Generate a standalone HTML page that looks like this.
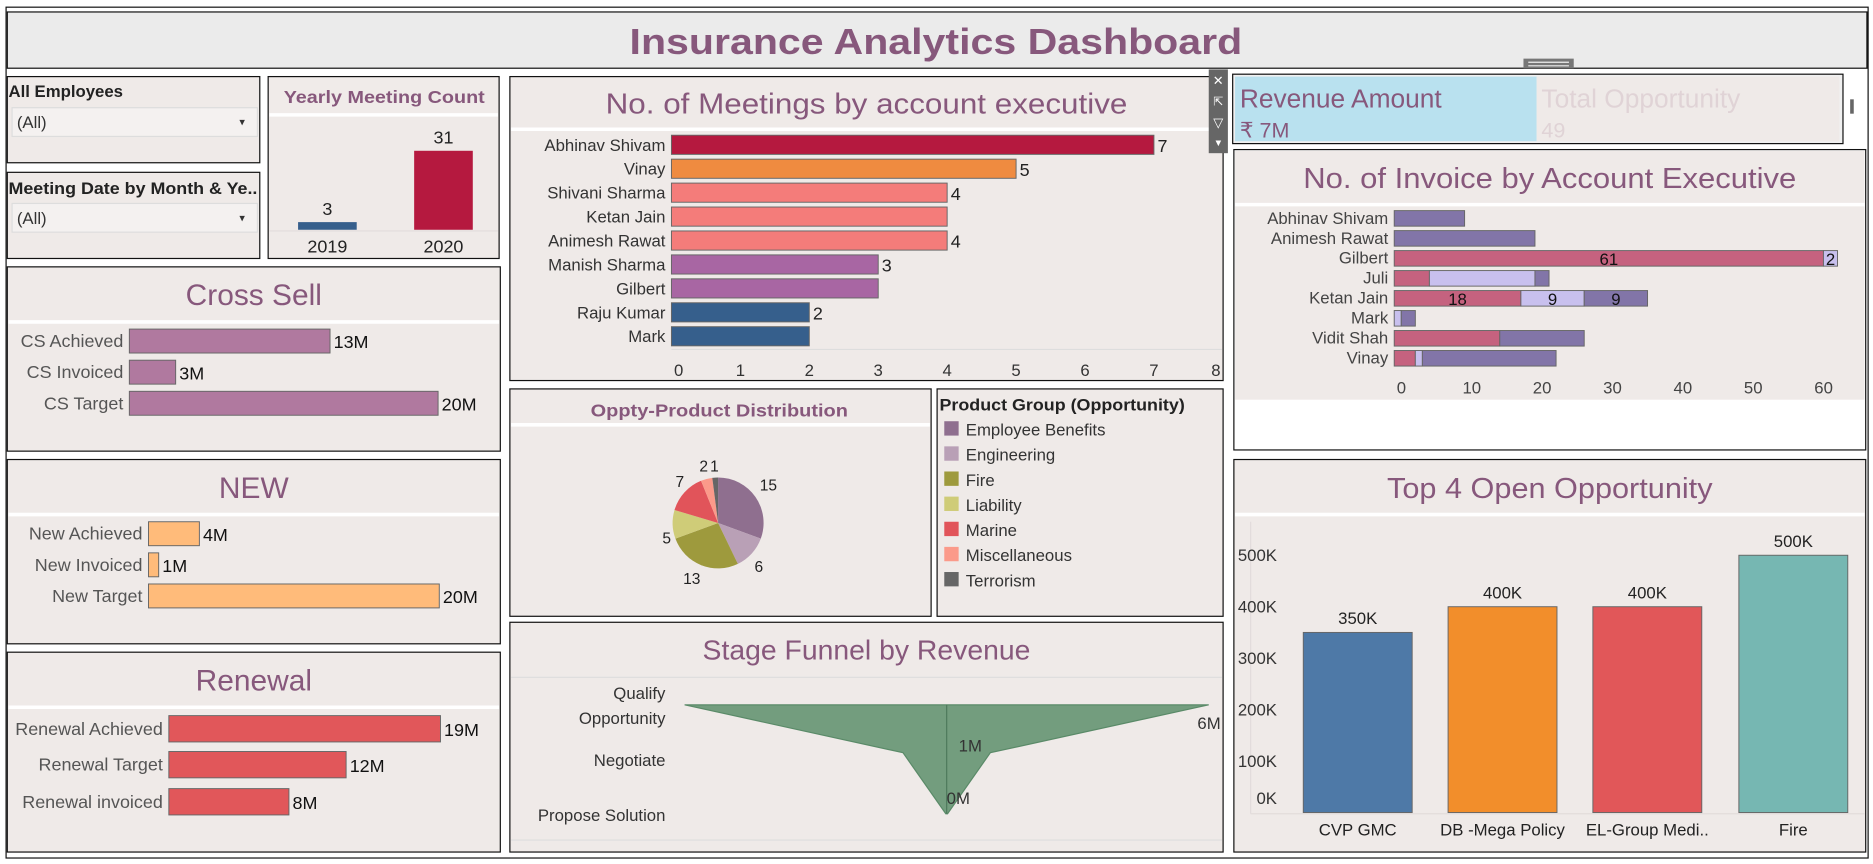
<!DOCTYPE html>
<html><head><meta charset="utf-8">
<style>
html,body{margin:0;padding:0;background:#fff;width:1873px;height:864px;overflow:hidden}
svg{display:block;font-family:"Liberation Sans",sans-serif}
</style></head>
<body>
<svg id="dash" width="1873" height="864" viewBox="0 0 1565 722" xmlns="http://www.w3.org/2000/svg">
<rect x="0" y="0" width="1565" height="722" fill="#fff"/>
<rect x="5" y="6" width="1556" height="711" fill="#fff" stroke="#111" stroke-width="1"/>
<g>
<rect x="6" y="10" width="1554" height="47" fill="#ebebeb" stroke="#111"/>
<text x="782" y="45" text-anchor="middle" font-size="30" font-weight="bold" fill="#87587c" textLength="512" lengthAdjust="spacingAndGlyphs">Insurance Analytics Dashboard</text>
<rect x="1273" y="49" width="42" height="8" fill="#777"/><line x1="1277" y1="52" x2="1311" y2="52" stroke="#eee"/><line x1="1277" y1="55" x2="1311" y2="55" stroke="#eee"/>
</g>
<g>
<rect x="6" y="64" width="211" height="72" fill="#efeae8" stroke="#111"/>
<text x="7" y="81" font-size="14" font-weight="bold" fill="#222">All Employees</text>
<rect x="10" y="90" width="205" height="24" fill="#f4f1f0" stroke="#ddd"/>
<text x="14" y="107" font-size="14" fill="#333">(All)</text><text x="200" y="105" font-size="9" fill="#333">▾</text>
</g>
<g>
<rect x="6" y="144" width="211" height="72" fill="#efeae8" stroke="#111"/>
<text x="7" y="162" font-size="14" font-weight="bold" fill="#222" textLength="208" lengthAdjust="spacingAndGlyphs">Meeting Date by Month &amp; Ye..</text>
<rect x="10" y="170" width="205" height="24" fill="#f4f1f0" stroke="#ddd"/>
<text x="14" y="187" font-size="14" fill="#333">(All)</text><text x="200" y="185" font-size="9" fill="#333">▾</text>
</g>
<g>
<rect x="224" y="64" width="193" height="152" fill="#efeae8" stroke="#111"/>
<rect x="225" y="65" width="191" height="30" fill="#f0ebe9"/><line x1="225" y1="96" x2="416" y2="96" stroke="#fff" stroke-width="3"/>
<text x="321" y="86" text-anchor="middle" font-size="15" font-weight="bold" fill="#87587c" textLength="168" lengthAdjust="spacingAndGlyphs">Yearly Meeting Count</text>
<g id="yearly"></g>
</g>
<g>
<rect x="6" y="223" width="412" height="154" fill="#efeae8" stroke="#111"/>
<line x1="7" y1="269" x2="417" y2="269" stroke="#fff" stroke-width="3"/>
<text x="212" y="255" text-anchor="middle" font-size="25" fill="#87587c">Cross Sell</text>
<g id="cs"></g></g>
<g>
<rect x="6" y="384" width="412" height="154" fill="#efeae8" stroke="#111"/>
<line x1="7" y1="430" x2="417" y2="430" stroke="#fff" stroke-width="3"/>
<text x="212" y="416" text-anchor="middle" font-size="25" fill="#87587c">NEW</text>
<g id="nw"></g></g>
<g>
<rect x="6" y="545" width="412" height="167" fill="#efeae8" stroke="#111"/>
<line x1="7" y1="591" x2="417" y2="591" stroke="#fff" stroke-width="3"/>
<text x="212" y="577" text-anchor="middle" font-size="25" fill="#87587c">Renewal</text>
<g id="rn"></g></g>
<g>
<rect x="426" y="64" width="596" height="254" fill="#efeae8" stroke="#111"/>
<line x1="427" y1="108" x2="1021" y2="108" stroke="#fff" stroke-width="3"/>
<text x="724" y="95" text-anchor="middle" font-size="24" fill="#87587c" textLength="436" lengthAdjust="spacingAndGlyphs">No. of Meetings by account executive</text>
<g id="meet"></g></g>
<g>
<rect x="1010" y="58" width="16" height="70" fill="#666"/>
<text x="1018" y="71" text-anchor="middle" font-size="11" fill="#fff">✕</text>
<text x="1018" y="88" text-anchor="middle" font-size="10" fill="#fff">⇱</text>
<text x="1018" y="106" text-anchor="middle" font-size="11" fill="#fff">▽</text>
<text x="1018" y="122" text-anchor="middle" font-size="8" fill="#fff">▼</text>
</g>
<g>
<rect x="426" y="325" width="352" height="190" fill="#efeae8" stroke="#111"/>
<line x1="427" y1="355" x2="777" y2="355" stroke="#fff" stroke-width="3"/>
<text x="601" y="348" text-anchor="middle" font-size="15" font-weight="bold" fill="#87587c" textLength="215" lengthAdjust="spacingAndGlyphs">Oppty-Product Distribution</text>
<g id="pie"></g></g>
<g>
<rect x="783" y="325" width="239" height="190" fill="#efeae8" stroke="#111"/>
<text x="785" y="343" font-size="14" font-weight="bold" fill="#222" textLength="205" lengthAdjust="spacingAndGlyphs">Product Group (Opportunity)</text>
<g id="legend"></g></g>
<g>
<rect x="426" y="520" width="596" height="192" fill="#efeae8" stroke="#111"/>
<line x1="427" y1="566" x2="1021" y2="566" stroke="#ddd" stroke-width="1"/>
<line x1="427" y1="702" x2="1021" y2="702" stroke="#ddd" stroke-width="1"/>
<text x="724" y="551" text-anchor="middle" font-size="23" fill="#87587c" textLength="274" lengthAdjust="spacingAndGlyphs">Stage Funnel by Revenue</text>
<g id="funnel"></g></g>
<g>
<rect x="1030" y="62" width="510" height="58" fill="#f0f0f0" stroke="#111"/>
<rect x="1032" y="64" width="252" height="54" fill="#b9e1ef"/>
<text x="1036" y="90" font-size="22" fill="#87587c">Revenue Amount</text>
<text x="1036" y="115" font-size="18" fill="#87587c">₹ 7M</text>
<rect x="1284" y="64" width="253" height="54" fill="#efeae8"/>
<text x="1288" y="90" font-size="22" fill="#e0d3d6">Total Opportunity</text>
<text x="1288" y="115" font-size="18" fill="#e0d3d6">49</text>
<rect x="1546" y="83" width="3" height="12" fill="#666"/>
</g>
<g>
<rect x="1031" y="125" width="528" height="251" fill="#fff" stroke="#111"/>
<rect x="1032" y="126" width="526" height="208" fill="#efeae8"/>
<line x1="1032" y1="171" x2="1558" y2="171" stroke="#fff" stroke-width="3"/>
<text x="1295" y="157" text-anchor="middle" font-size="24" fill="#87587c" textLength="412" lengthAdjust="spacingAndGlyphs">No. of Invoice by Account Executive</text>
<g id="inv"></g></g>
<g>
<rect x="1031" y="384" width="528" height="328" fill="#efeae8" stroke="#111"/>
<line x1="1032" y1="430" x2="1558" y2="430" stroke="#fff" stroke-width="3"/>
<text x="1295" y="416" text-anchor="middle" font-size="24" fill="#87587c" textLength="272" lengthAdjust="spacingAndGlyphs">Top 4 Open Opportunity</text>
<g id="top4"></g></g>
</svg>
<script>
const NS="http://www.w3.org/2000/svg";
function mk(p,t,a,txt){const e=document.createElementNS(NS,t);for(const k in a)e.setAttribute(k,a[k]);if(txt!==undefined)e.textContent=txt;p.appendChild(e);return e;}
const G=id=>document.getElementById(id);

const yearCats=["2019","2020"];
const yearVals=[3,31];
const yearColors=["#365f8c","#b5193f"];
const csCats=["CS Achieved","CS Invoiced","CS Target"];
const csVals=[13,3,20];
const newCats=["New Achieved","New Invoiced","New Target"];
const newVals=[3.5,0.7,20];
const rnCats=["Renewal Achieved","Renewal Target","Renewal invoiced"];
const rnVals=[19,12.4,8.4];
const meetNames=["Abhinav Shivam","Vinay","Shivani Sharma","Ketan Jain","Animesh Rawat","Manish Sharma","Gilbert","Raju Kumar","Mark"];
const meetVals=[7,5,4,4,4,3,3,2,2];
const meetLabels=["7","5","4","","4","3","","2",""];
const meetColors=["#b5193f","#ef8b40","#f47c7a","#f47c7a","#f47c7a","#a866a3","#a866a3","#365f8c","#365f8c"];
const meetTicks=[0,1,2,3,4,5,6,7,8];
const pieCats=["Employee Benefits","Engineering","Fire","Liability","Marine","Miscellaneous","Terrorism"];
const pieVals=[15,6,13,5,7,2,1];
const pieColors=["#8f6f8f","#b9a0b6","#9e9a3d","#cfcc78","#e1545a","#fb9a8a","#666666"];
const stageCats=["Qualify Opportunity","Negotiate","Propose Solution"];
const stageVals=[6,1,0.02];
const stageLabels=["6M","1M","0M"];
const invNames=["Abhinav Shivam","Animesh Rawat","Gilbert","Juli","Ketan Jain","Mark","Vidit Shah","Vinay"];
const invS1=[0,0,61,5,18,0,15,3];
const invS2=[0,0,2,15,9,1,0,1];
const invS3=[10,20,0,2,9,2,12,19];
const invShowLabel=[false,false,true,false,true,false,false,false];
const invTicks=[0,10,20,30,40,50,60];
const topCats=["CVP GMC","DB -Mega Policy","EL-Group Medi..","Fire"];
const topVals=[350,400,400,500];
const topColors=["#4e79a7","#f28e2b","#e15759","#76b7b2"];
const topTicks=[0,100,200,300,400,500];

(function(){const g=G("yearly");const base=192,sc=66/31,x0=[249,346];
 mk(g,"line",{x1:225,y1:base+1,x2:416,y2:base+1,stroke:"#e2dcdb"});
 yearVals.forEach((v,i)=>{const h=v*sc;
  const r=mk(g,"rect",{x:x0[i],y:base-h,width:49,height:h,fill:yearColors[i]});
  
  
  mk(g,"text",{x:x0[i]+24.5,y:base-h-6,"text-anchor":"middle","font-size":15,fill:"#222"},String(v));
  mk(g,"text",{x:x0[i]+24.5,y:211,"text-anchor":"middle","font-size":15,fill:"#222"},yearCats[i]);});})();

function hbars(id,cats,vals,x0,sc,ys,h,color,fs){const g=G(id);
 cats.forEach((c,i)=>{const w=vals[i]*sc;
  mk(g,"text",{x:x0-5,y:ys[i]+h/2+5,"text-anchor":"end","font-size":fs,fill:"#555"},c);
  const r=mk(g,"rect",{x:x0,y:ys[i],width:w,height:h,fill:color,stroke:"#666","stroke-width":0.8});
  
  
  mk(g,"text",{x:x0+w+3,y:ys[i]+h/2+6,"font-size":15,fill:"#111"},Math.round(vals[i])+"M");});}
hbars("cs",csCats,csVals,108,258/20,[275,301,327],20,"#b0799f",15);
hbars("nw",newCats,newVals,124,243/20,[436,462,488],20,"#ffbb7a",15);
hbars("rn",rnCats,rnVals,141,227/19,[598,628,659],22,"#e1575a",15);

(function(){const g=G("meet");const x0=561,sc=57.6;
 meetNames.forEach((n,i)=>{const y=113+i*20,w=meetVals[i]*sc;
  mk(g,"text",{x:556,y:y+13,"text-anchor":"end","font-size":14,fill:"#333"},n);
  const r=mk(g,"rect",{x:x0,y:y,width:w,height:16,fill:meetColors[i],stroke:"#666","stroke-width":0.8});
  
  
  if(meetLabels[i])mk(g,"text",{x:x0+w+3,y:y+14,"font-size":15,fill:"#222"},meetLabels[i]);});
 mk(g,"line",{x1:x0,y1:292,x2:1021,y2:292,stroke:"#ddd"});
 meetTicks.forEach(t=>{const x=Math.min(x0+t*sc,1016)+(t===0?6:0);
  mk(g,"text",{x:x,y:314,"text-anchor":"middle","font-size":14,fill:"#333"},String(t));});})();

(function(){const g=G("pie");const cx=600,cy=437,r=38;const tot=pieVals.reduce((a,b)=>a+b,0);let a=0;
 pieVals.forEach((v,i)=>{const a1=a+v/tot*2*Math.PI;
  const p=(t)=>[cx+r*Math.sin(t),cy-r*Math.cos(t)];const s=p(a),e=p(a1);
  const el=mk(g,"path",{d:`M${cx},${cy}L${s[0]},${s[1]}A${r},${r} 0 ${a1-a>Math.PI?1:0} 1 ${e[0]},${e[1]}Z`,fill:pieColors[i]});
  
  
  a=a1;});
 const lab=[[642,410],[634,478],[578,488],[557,454],[568,407],[588,394],[597,394]];
 pieVals.forEach((v,i)=>{mk(g,"text",{x:lab[i][0],y:lab[i][1],"text-anchor":"middle","font-size":13,fill:"#222"},String(v));});
 const lg=G("legend");
 pieCats.forEach((c,i)=>{const y=359+i*21;
  const s=mk(lg,"rect",{x:789,y:y-7,width:12,height:12,fill:pieColors[i]});
  
  
  mk(lg,"text",{x:807,y:y+5,"font-size":14,fill:"#333"},c);});})();

(function(){const g=G("funnel");const cx=791,sc=36.5,ys=[589,629,680];
 const L=stageVals.map((v,i)=>[cx-v*sc,ys[i]]),R=stageVals.map((v,i)=>[cx+v*sc,ys[i]]).reverse();
 const pts=L.concat(R).map(p=>p.join(",")).join(" ");
 const poly=mk(g,"polygon",{points:pts,fill:"#739d7e",stroke:"#5a8a68"});
 
 
 mk(g,"line",{x1:cx,y1:ys[0],x2:cx,y2:ys[2],stroke:"#4e7a5c"});
 mk(g,"text",{x:556,y:584,"text-anchor":"end","font-size":14,fill:"#333"},"Qualify");
 mk(g,"text",{x:556,y:605,"text-anchor":"end","font-size":14,fill:"#333"},"Opportunity");
 mk(g,"text",{x:556,y:640,"text-anchor":"end","font-size":14,fill:"#333"},stageCats[1]);
 mk(g,"text",{x:556,y:686,"text-anchor":"end","font-size":14,fill:"#333"},stageCats[2]);
 mk(g,"text",{x:1020,y:609,"text-anchor":"end","font-size":14,fill:"#333"},stageLabels[0]);
 mk(g,"text",{x:cx+10,y:628,"font-size":14,fill:"#333"},stageLabels[1]);
 mk(g,"text",{x:cx,y:672,"font-size":14,fill:"#333"},stageLabels[2]);})();

(function(){const g=G("inv");const x0=1165,sc=5.88;const cols=["#c5627f","#c8c0ee","#8275a8"];
 invNames.forEach((n,i)=>{const y=176+i*16.7;
  mk(g,"text",{x:1160,y:y+11,"text-anchor":"end","font-size":14,fill:"#444"},n);
  let x=x0;[invS1,invS2,invS3].forEach((s,k)=>{const v=s[i];if(!v)return;const w=v*sc;
   const r=mk(g,"rect",{x:x,y:y,width:w,height:13,fill:cols[k],stroke:"#666","stroke-width":0.8});
   
   
   if(invShowLabel[i])mk(g,"text",{x:x+w/2,y:y+12,"text-anchor":"middle","font-size":14,fill:"#111"},String(v));
   x+=w;});});
 invTicks.forEach(t=>{mk(g,"text",{x:x0+t*sc+6,y:329,"text-anchor":"middle","font-size":14,fill:"#444"},String(t));});})();

(function(){const g=G("top4");const base=679,sc=43/100,xs=[1089,1210,1331,1453];
 mk(g,"line",{x1:1045,y1:436,x2:1045,y2:680,stroke:"#e2dcdb"});
 mk(g,"line",{x1:1045,y1:680,x2:1558,y2:680,stroke:"#e2dcdb"});
 topTicks.forEach(t=>{const y=Math.min(base-t*sc,667);
  mk(g,"text",{x:1067,y:y+5,"text-anchor":"end","font-size":14,fill:"#333"},t+"K");});
 topVals.forEach((v,i)=>{const h=v*sc;
  const r=mk(g,"rect",{x:xs[i],y:base-h,width:91,height:h,fill:topColors[i],stroke:"#666","stroke-width":0.8});
  
  
  mk(g,"text",{x:xs[i]+45.5,y:base-h-7,"text-anchor":"middle","font-size":14,fill:"#222"},v+"K");
  mk(g,"text",{x:xs[i]+45.5,y:698,"text-anchor":"middle","font-size":14,fill:"#222"},topCats[i]);});})();
</script>
</body></html>
